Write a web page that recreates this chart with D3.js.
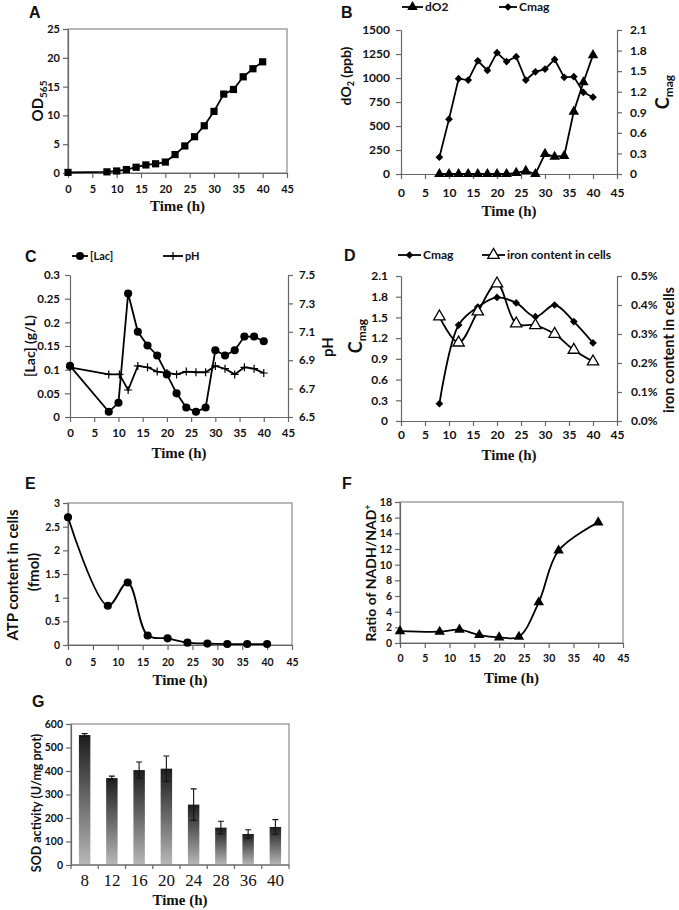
<!DOCTYPE html>
<html><head><meta charset="utf-8">
<script src="https://cdn.jsdelivr.net/npm/d3@7"></script>
<style>
body{margin:0;background:#fff}
text{font-family:Lato,"Open Sans",sans-serif;font-weight:bold;fill:#111}
.serif{font-family:"Liberation Serif","DejaVu Serif",serif}
</style></head>
<body><svg id="c" width="679" height="910"></svg>
<script>
// ---------------- DATA ----------------
const timeTicks = [0,5,10,15,20,25,30,35,40,45];
// A
const timeA = [0,8,10,12,14,16,18,20,22,24,26,28,30,32,34,36,38,40];
const od565 = [0.1,0.2,0.35,0.6,1.0,1.4,1.6,1.9,3.2,4.7,6.3,8.2,10.7,13.7,14.5,16.7,18.1,19.3];
const ticksA = [0,5,10,15,20,25];
// B
const timeB = [8,10,12,14,16,18,20,22,24,26,28,30,32,34,36,38,40];
const dO2 = [0,0,0,0,0,0,0,0,12,32,0,210,180,188,650,955,1238];
const cmagB = [0.245,0.8,1.39,1.37,1.65,1.51,1.77,1.64,1.71,1.37,1.49,1.53,1.67,1.41,1.42,1.19,1.12];
const ticksBL = [0,250,500,750,1000,1250,1500];
const ticksBR = [0,0.3,0.6,0.9,1.2,1.5,1.8,2.1];
// C
const timeC = [0,8,10,12,14,16,18,20,22,24,26,28,30,32,34,36,38,40];
const lac = [0.108,0.011,0.03,0.261,0.18,0.151,0.13,0.09,0.05,0.02,0.011,0.02,0.141,0.13,0.141,0.17,0.17,0.16];
const timePH = [0,8,10.2,12,14,16,18,20,22,24,26,28,30,32,34,36,38,40];
const pH = [6.85,6.8,6.8,6.69,6.86,6.85,6.82,6.81,6.8,6.82,6.815,6.815,6.86,6.84,6.8,6.85,6.84,6.81];
const ticksCL = [0,0.05,0.1,0.15,0.2,0.25,0.3];
const ticksCR = [6.5,6.7,6.9,7.1,7.3,7.5];
// D
const timeD = [8,12,16,20,24,28,32,36,40];
const cmagD = [0.25,1.39,1.65,1.79,1.71,1.51,1.68,1.44,1.13];
const ironD = [0.0036,0.0027,0.00377,0.00474,0.00336,0.0033,0.003,0.00245,0.00205];
const ticksDL = [0,0.3,0.6,0.9,1.2,1.5,1.8,2.1];
const ticksDR = [0,0.001,0.002,0.003,0.004,0.005];
// E
const timeE = [0,8,12,16,20,24,28,32,36,40];
const atp = [2.7,0.83,1.32,0.2,0.14,0.05,0.03,0.02,0.02,0.02];
const ticksE = [0,0.5,1,1.5,2,2.5,3];
// F
const timeF = [0,8,12,16,20,24,28,32,40];
const nadRatio = [1.52,1.44,1.7,1.02,0.72,0.8,5.2,11.8,15.4];
const ticksF = [0,2,4,6,8,10,12,14,16,18];
// G
const sodTimes = ["8","12","16","20","24","28","36","40"];
const sodValues = [553,370,404,410,257,159,132,162];
const sodErrors = [6,8,34,54,67,27,18,31];
const ticksG = [0,100,200,300,400,500,600];

// ---------------- DRAW ----------------
const svg = d3.select("#c");
const AX = "#666", FR = "#8a8a8a";

const defs = svg.append("defs");
const grad = defs.append("linearGradient").attr("id","barg").attr("x1",0).attr("y1",0).attr("x2",0).attr("y2",1);
grad.append("stop").attr("offset","0%").attr("stop-color","#1c1c1c");
grad.append("stop").attr("offset","100%").attr("stop-color","#b8b8b8");

function styleAxis(sel, fs){
  sel.select(".domain").attr("stroke",AX).attr("stroke-width",1.2);
  sel.selectAll(".tick line").attr("stroke",AX).attr("stroke-width",1.2);
  sel.selectAll(".tick text").attr("font-size",fs).attr("fill","#111").style("font-weight","bold");
}

function panel(r, o){
  const g = svg.append("g");
  const x = d3.scaleLinear([0,45],[r.x0,r.x1]);
  const yL = d3.scaleLinear(o.yL,[r.y1,r.y0]);
  const yR = o.yR ? d3.scaleLinear(o.yR,[r.y1,r.y0]) : null;
  if(o.box){
    g.append("rect").attr("x",r.x0).attr("y",r.y0).attr("width",r.x1-r.x0).attr("height",r.y1-r.y0)
      .attr("fill","none").attr("stroke",FR).attr("stroke-width",1.2);
  }
  const fs = o.fs || 11;
  const ax = g.append("g").attr("transform",`translate(0,${r.y1})`)
    .call(d3.axisBottom(x).tickValues(timeTicks).tickSize(5).tickSizeOuter(0));
  styleAxis(ax, fs);
  ax.selectAll(".tick text").attr("y",o.xGap).attr("dy","0.35em");
  const al = g.append("g").attr("transform",`translate(${r.x0},0)`)
    .call(d3.axisLeft(yL).tickValues(o.yLT).tickFormat(o.fL||(d=>d)).tickSize(5).tickSizeOuter(0));
  styleAxis(al, fs);
  al.selectAll(".tick text").attr("x",-o.lGap);
  if(yR){
    const ar = g.append("g").attr("transform",`translate(${r.x1},0)`)
      .call(d3.axisRight(yR).tickValues(o.yRT).tickFormat(o.fR||(d=>d)).tickSize(5).tickSizeOuter(0));
    styleAxis(ar, fs);
    ar.selectAll(".tick text").attr("x",o.rGap);
  }
  g.append("text").attr("class","serif").attr("x",(r.x0+r.x1)/2).attr("y",o.tY)
    .attr("text-anchor","middle").attr("dy","0.35em").attr("font-size",15).text("Time (h)");
  return {g,x,yL,yR};
}

function line(g, xs, ys, x, y, curve){
  g.append("path").datum(xs.map((t,i)=>[t,ys[i]]))
    .attr("d", d3.line().x(d=>x(d[0])).y(d=>y(d[1])).curve(curve||d3.curveLinear))
    .attr("fill","none").attr("stroke","#000").attr("stroke-width",1.8);
}
function markers(g, xs, ys, x, y, kind){
  xs.forEach((t,i)=>drawMarker(g, x(t), y(ys[i]), kind));
}
function drawMarker(g, cx, cy, kind){
  if(kind==="square") g.append("path").attr("d",d3.symbol(d3.symbolSquare,52)()).attr("transform",`translate(${cx},${cy})`).attr("fill","#000");
  else if(kind==="tri") g.append("path").attr("d",d3.symbol(d3.symbolTriangle,48)()).attr("transform",`translate(${cx},${cy})`).attr("fill","#000");
  else if(kind==="otri") g.append("path").attr("d",d3.symbol(d3.symbolTriangle,56)()).attr("transform",`translate(${cx},${cy})`).attr("fill","#fff").attr("stroke","#000").attr("stroke-width",1.3);
  else if(kind==="diamond") g.append("path").attr("d",d3.symbol(d3.symbolSquare,30)()).attr("transform",`translate(${cx},${cy}) rotate(45)`).attr("fill","#000");
  else if(kind==="circle") g.append("path").attr("d",d3.symbol(d3.symbolCircle,52)()).attr("transform",`translate(${cx},${cy})`).attr("fill","#000");
  else if(kind==="plus") g.append("path").attr("d","M-4,0H4M0,-4V4").attr("transform",`translate(${cx},${cy})`).attr("stroke","#000").attr("stroke-width",1.2);
}
function letter(t,x,y){ svg.append("text").attr("x",x).attr("y",y).attr("dy","0.35em").attr("font-size",16)
  .style("font-family","'Liberation Sans',Arial,sans-serif").text(t); }
function vlabel(x,y,fs){
  return svg.append("text").attr("transform",`translate(${x},${y}) rotate(-90)`).attr("text-anchor","middle")
    .attr("dy","0.35em").attr("font-size",fs);
}
function sub(t, main, s, fs, shift){
  t.append("tspan").text(main);
  t.append("tspan").attr("font-size",fs).attr("dy",shift).text(s);
}
function legendItem(x0,x1,y,kind,label,fs){
  svg.append("line").attr("x1",x0).attr("x2",x1).attr("y1",y).attr("y2",y).attr("stroke","#000").attr("stroke-width",1.8);
  drawMarker(svg,(x0+x1)/2,y,kind);
  svg.append("text").attr("x",x1+2).attr("y",y).attr("dy","0.35em").attr("font-size",fs||11).text(label);
}

// Panel A
{
  const r={x0:68,x1:287,y0:29,y1:173};
  const p=panel(r,{box:true,yL:[0,25],yLT:ticksA,xGap:16,lGap:8,tY:206,fs:11});
  line(p.g,timeA,od565,p.x,p.yL);
  markers(p.g,timeA,od565,p.x,p.yL,"square");
  letter("A",29,12);
  const t=vlabel(38,101,15); sub(t,"OD","565",10,4);
}
// Panel B
{
  const r={x0:401,x1:617,y0:30,y1:174};
  const p=panel(r,{yL:[0,1500],yR:[0,2.1],yLT:ticksBL,yRT:ticksBR,fR:d=>d===0?"0":d3.format(".1f")(d),
    xGap:19,lGap:11,rGap:13,tY:211,fs:12});
  line(p.g,timeB,dO2,p.x,p.yL);
  markers(p.g,timeB,dO2,p.x,p.yL,"tri");
  line(p.g,timeB,cmagB,p.x,p.yR);
  markers(p.g,timeB,cmagB,p.x,p.yR,"diamond");
  letter("B",341,12);
  legendItem(402,423,7,"tri","dO2",12);
  legendItem(499,517,7,"diamond","Cmag",12);
  const t=vlabel(346,76,14); sub(t,"dO","2",9,3); t.append("tspan").attr("dy",-3).text(" (ppb)");
  const t2=vlabel(663,92,18); sub(t2,"C","mag",12,4);
}
// Panel C
{
  const r={x0:70,x1:288,y0:275,y1:417};
  const p=panel(r,{yL:[0,0.3],yR:[6.5,7.5],yLT:ticksCL,yRT:ticksCR,fL:d=>String(+d.toFixed(2)),fR:d=>d3.format(".1f")(d),
    xGap:16,lGap:10,rGap:11,tY:453,fs:11.5});
  line(p.g,timePH,pH,p.x,p.yR);
  markers(p.g,timePH,pH,p.x,p.yR,"plus");
  line(p.g,timeC,lac,p.x,p.yL);
  markers(p.g,timeC,lac,p.x,p.yL,"circle");
  letter("C",25,256);
  legendItem(72,88,256,"circle","[Lac]",11);
  legendItem(163,183,256,"plus","pH",11);
  vlabel(30,346,14).text("[Lac] (g/L)");
  vlabel(328,347,15).text("pH");
}
// Panel D
{
  const r={x0:401,x1:617,y0:276,y1:421};
  const p=panel(r,{yL:[0,2.1],yR:[0,0.005],yLT:ticksDL,yRT:ticksDR,fL:d=>d===0?"0":d3.format(".1f")(d),fR:d3.format(".1%"),
    xGap:14,lGap:13,rGap:14,tY:455,fs:12});
  const sm=d3.curveCatmullRom.alpha(0.5);
  line(p.g,timeD,cmagD,p.x,p.yL,sm);
  markers(p.g,timeD,cmagD,p.x,p.yL,"diamond");
  line(p.g,timeD,ironD,p.x,p.yR,sm);
  markers(p.g,timeD,ironD,p.x,p.yR,"otri");
  letter("D",344,255);
  legendItem(398,421,255,"diamond","Cmag",12);
  legendItem(482,505,255,"otri","iron content in cells",12);
  const t=vlabel(356,336,18); sub(t,"C","mag",12,4);
  vlabel(669,350,14.5).text("iron content in cells");
}
// Panel E
{
  const r={x0:68,x1:292,y0:503,y1:645};
  const p=panel(r,{box:true,yL:[0,3],yLT:ticksE,xGap:17,lGap:8,tY:680,fs:10.5});
  line(p.g,timeE,atp,p.x,p.yL,d3.curveCatmullRom.alpha(0.5));
  markers(p.g,timeE,atp,p.x,p.yL,"circle");
  letter("E",25,483);
  vlabel(13,575,15).text("ATP content in cells");
  vlabel(34,572,15).text("(fmol)");
}
// Panel F
{
  const r={x0:400,x1:623,y0:502,y1:643};
  const p=panel(r,{box:true,yL:[0,18],yLT:ticksF,xGap:15,lGap:8,tY:678,fs:10.5});
  line(p.g,timeF,nadRatio,p.x,p.yL,d3.curveCatmullRom.alpha(0.5));
  markers(p.g,timeF,nadRatio,p.x,p.yL,"tri");
  letter("F",342,483);
  const t=vlabel(371,573,14); t.append("tspan").text("Ratio of NADH/NAD"); t.append("tspan").attr("font-size",9).attr("dy",-5).text("+");
}
// Panel G
{
  const r={x0:71,x1:289,y0:724,y1:865};
  const g=svg.append("g");
  const x=d3.scaleBand(sodTimes,[r.x0,r.x1]);
  const y=d3.scaleLinear([0,600],[r.y1,r.y0]);
  g.append("rect").attr("x",r.x0).attr("y",r.y0).attr("width",r.x1-r.x0).attr("height",r.y1-r.y0)
    .attr("fill","none").attr("stroke",FR).attr("stroke-width",1.2);
  const bw=x.bandwidth()*0.42;
  g.selectAll("rect.bar").data(sodTimes).join("rect").attr("class","bar")
    .attr("x",d=>x(d)+x.bandwidth()/2-bw/2).attr("width",bw)
    .attr("y",(d,i)=>y(sodValues[i])).attr("height",(d,i)=>y(0)-y(sodValues[i]))
    .attr("fill","url(#barg)");
  sodTimes.forEach((d,i)=>{
    const cx=x(d)+x.bandwidth()/2, y1=y(sodValues[i]+sodErrors[i]), y2=y(sodValues[i]-sodErrors[i]);
    g.append("path").attr("d",`M${cx},${y1}V${y2}M${cx-3},${y1}H${cx+3}M${cx-3},${y2}H${cx+3}`)
      .attr("stroke","#111").attr("stroke-width",1.1).attr("fill","none");
  });
  const al=g.append("g").attr("transform",`translate(${r.x0},0)`)
    .call(d3.axisLeft(y).tickValues(ticksG).tickSize(5).tickSizeOuter(0));
  styleAxis(al,10.5); al.selectAll(".tick text").attr("x",-8);
  g.append("line").attr("x1",r.x0).attr("x2",r.x1).attr("y1",r.y1).attr("y2",r.y1).attr("stroke",AX).attr("stroke-width",1.2);
  sodTimes.concat(["end"]).forEach((d,i)=>{
    const xx = d==="end" ? r.x1 : x(d);
    g.append("line").attr("x1",xx).attr("x2",xx).attr("y1",r.y1).attr("y2",r.y1+4).attr("stroke",AX).attr("stroke-width",1.2);
  });
  sodTimes.forEach(d=>{
    g.append("text").attr("class","serif").attr("x",x(d)+x.bandwidth()/2).attr("y",880).attr("dy","0.35em")
      .attr("text-anchor","middle").attr("font-size",17).style("font-weight","normal").text(d);
  });
  g.append("text").attr("class","serif").attr("x",(r.x0+r.x1)/2).attr("y",900).attr("dy","0.35em")
    .attr("text-anchor","middle").attr("font-size",15).text("Time (h)");
  letter("G",32,701);
  vlabel(37,803,12.5).text("SOD activity (U/mg prot)");
}
</script></body></html>
